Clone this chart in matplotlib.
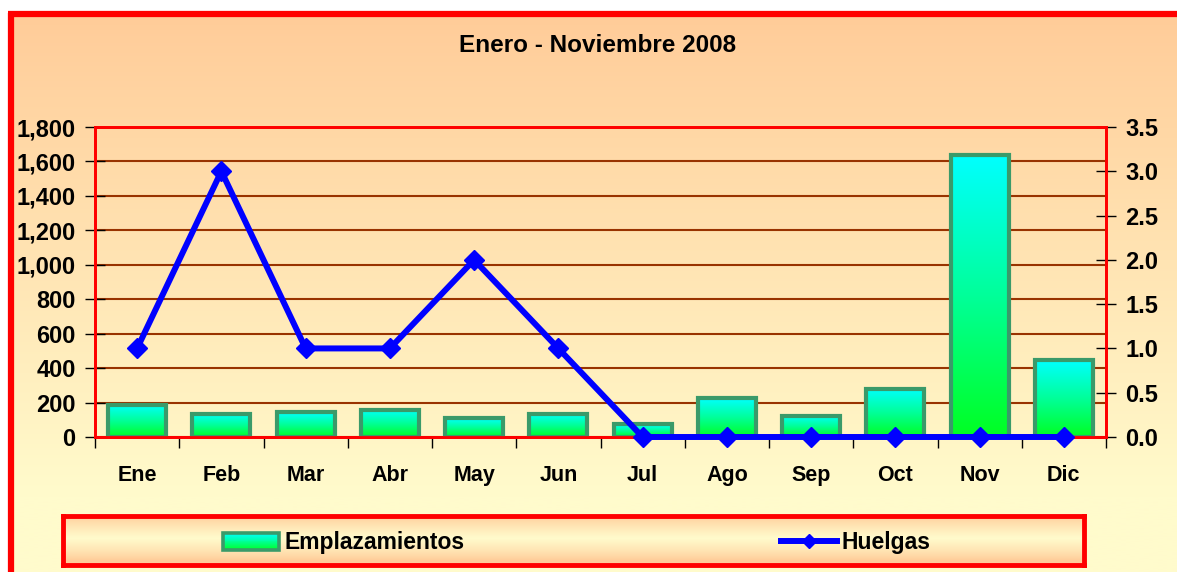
import numpy as np
import matplotlib
matplotlib.use("Agg")
import matplotlib.pyplot as plt
from matplotlib.colors import LinearSegmentedColormap, to_rgb
from matplotlib.patches import Rectangle
from matplotlib.lines import Line2D
from matplotlib.legend_handler import HandlerBase
from matplotlib.ticker import FuncFormatter, MultipleLocator

plt.rcParams['font.family'] = ['Liberation Sans', 'DejaVu Sans']
plt.rcParams['font.weight'] = 'bold'

# ---- data ----
months = ["Ene", "Feb", "Mar", "Abr", "May", "Jun", "Jul", "Ago", "Sep", "Oct", "Nov", "Dic"]
emplazamientos = [188, 135, 145, 157, 110, 134, 75, 225, 122, 280, 1635, 447]
huelgas = [1, 3, 1, 1, 2, 1, 0, 0, 0, 0, 0, 0]
title = "Enero - Noviembre 2008"
label_bars = "Emplazamientos"
label_line = "Huelgas"

W, H = 1177, 572
fig = plt.figure(figsize=(W / 100, H / 100), dpi=100)
fig.patch.set_facecolor('white')

# ---- background (chart area gradient) ----
bg = fig.add_axes([0, 0, 1, 1], zorder=-10)
bg.axis('off')
c_top = np.array(to_rgb('#FFCC99'))
c_bot = np.array(to_rgb('#FFFBCC'))
ys = np.linspace(0, 1, 256)
prof = np.clip(ys / 0.82, 0, 1)[:, None]
grad = c_top[None, :] * (1 - prof) + c_bot[None, :] * prof
bg.imshow(grad[:, None, :], extent=(11, W + 20, H + 30, 14), aspect='auto', interpolation='bilinear')
bg.plot([10.5, 10.5], [13, H + 5], color='red', lw=4.5, solid_capstyle='butt')
bg.plot([8, W + 5], [13.5, 13.5], color='red', lw=4.5, solid_capstyle='butt')
bg.set_xlim(0, W)
bg.set_ylim(H, 0)

fig.text(598 / W, 1 - 46 / H, title, ha='center', va='center', fontsize=17.5, fontweight='bold')

# ---- main axes ----
L, R, T, B = 95, 1106, 127, 437
ax = fig.add_axes([L / W, 1 - B / H, (R - L) / W, (B - T) / H])
ax.patch.set_alpha(0)
x = np.arange(len(months))
ax.grid(axis='y', color='#993300', lw=1.5, zorder=0)
ax.set_axisbelow(True)

bars = ax.bar(x, emplazamientos, width=0.69, facecolor='none', edgecolor='#3A9A6A', lw=3, zorder=3)
cmap = LinearSegmentedColormap.from_list('bar', ['#00FF22', '#00FF99', '#00FFFF'])
gimg = np.linspace(0, 1, 256)[:, None]
for b in bars:
    x0, w, h = b.get_x(), b.get_width(), b.get_height()
    ax.imshow(gimg, cmap=cmap, extent=(x0, x0 + w, 0, h), origin='lower', aspect='auto', zorder=2,
              interpolation='bilinear')
ax.set_xlim(-0.5, len(months) - 0.5)
ax.set_ylim(0, 1800)
ax.yaxis.set_major_locator(MultipleLocator(200))
ax.yaxis.set_major_formatter(FuncFormatter(lambda v, p: f"{int(v):,}"))

ax.set_xticks(np.arange(-0.5, len(months)), minor=False)
ax.set_xticklabels([])
ax.set_xticks(x, minor=True)
ax.set_xticklabels(months, minor=True, fontsize=15.5, fontweight='bold')
ax.tick_params(axis='x', which='major', direction='out', length=8, width=1, color='black')
ax.tick_params(axis='x', which='minor', length=0, pad=20)
ax.tick_params(axis='y', direction='inout', length=14, width=1, pad=7, labelsize=17)
for lab in ax.get_yticklabels():
    lab.set_fontweight('bold')
for s in ax.spines.values():
    s.set_color('red')
    s.set_linewidth(2)

# ---- secondary axis ----
ax2 = ax.twinx()
ax2.set_ylim(0, 3.5)
ax2.yaxis.set_major_locator(MultipleLocator(0.5))
ax2.yaxis.set_major_formatter(FuncFormatter(lambda v, p: f"{v:.1f}"))
ax2.plot(x, huelgas, color='#0000FF', lw=4.3, marker='D', ms=10, zorder=5, clip_on=False)
ax2.tick_params(axis='y', direction='inout', length=14, width=1, pad=7, labelsize=17)
for lab in ax2.get_yticklabels():
    lab.set_fontweight('bold')
for s in ax2.spines.values():
    s.set_color('red')
    s.set_linewidth(2)

# ---- legend ----
lx0, lx1, ly0, ly1 = 63, 1084, 516, 565
lax = fig.add_axes([lx0 / W, 1 - ly1 / H, (lx1 - lx0) / W, (ly1 - ly0) / H])
lt = np.linspace(0, 1, 256)
lprof = np.clip(1 - np.abs(lt - 0.45) / 0.45, 0, 1) ** 0.8
lg = c_top[None, :] * (1 - lprof[:, None]) + c_bot[None, :] * lprof[:, None]
lax.imshow(lg[:, None, :], extent=(0, 1, 0, 1), aspect='auto', interpolation='bilinear', origin='upper')
lax.set_xlim(0, 1)
lax.set_ylim(0, 1)
lax.set_xticks([])
lax.set_yticks([])
for s in lax.spines.values():
    s.set_color('red')
    s.set_linewidth(3.5)


class GradientHandler(HandlerBase):
    def create_artists(self, legend, orig_handle, xdescent, ydescent, width, height, fontsize, trans):
        arts = []
        n = 20
        for i in range(n):
            c = cmap(i / (n - 1))
            arts.append(Rectangle((-xdescent, -ydescent + height * i / n), width, height / n + 0.3,
                                  facecolor=c, edgecolor='none', transform=trans))
        arts.append(Rectangle((-xdescent, -ydescent), width, height, facecolor='none',
                              edgecolor='#3A9A6A', lw=2.6, transform=trans))
        return arts


bar_handle = Rectangle((0, 0), 1, 1)
line_handle = Line2D([], [], color='#0000FF', lw=4.3, marker='D', ms=7)
leg = lax.legend([bar_handle, line_handle], [label_bars, label_line], ncol=2,
                 handler_map={Rectangle: GradientHandler()},
                 loc='center left', bbox_to_anchor=((223 - lx0) / (lx1 - lx0), 0.45),
                 frameon=False, prop={'weight': 'bold', 'size': 16.5},
                 handlelength=2.45, handleheight=0.79, handletextpad=0.22,
                 columnspacing=13.8, borderpad=0, borderaxespad=0)

fig.savefig('out.png', dpi=100)
